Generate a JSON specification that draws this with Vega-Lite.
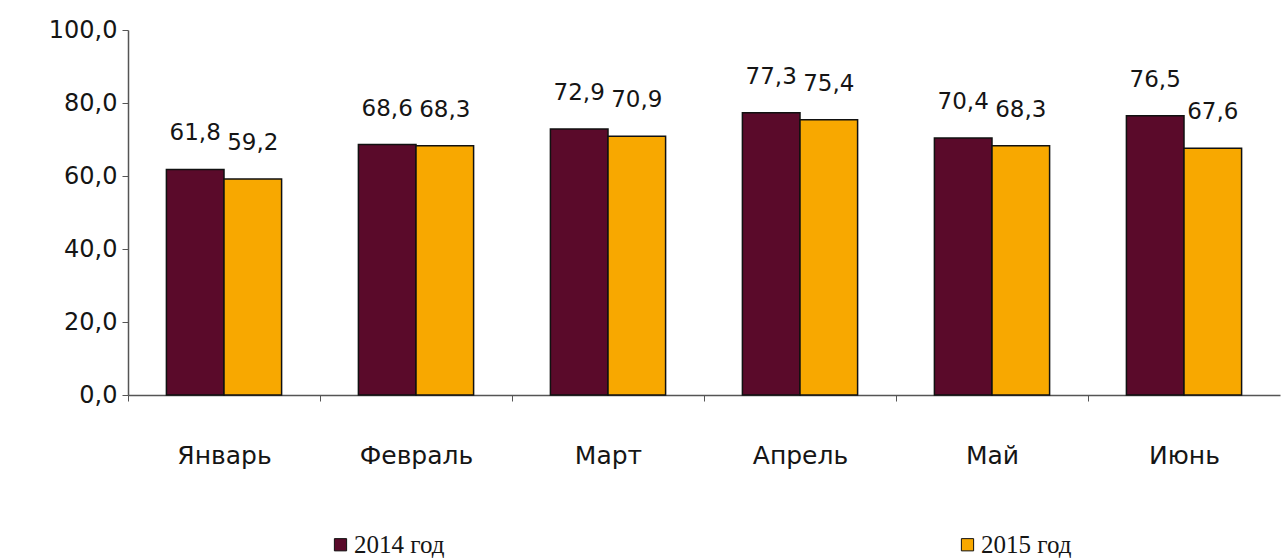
{
  "$schema": "https://vega.github.io/schema/vega-lite/v6.json",
  "width": 1152,
  "height": 365,
  "autosize": "none",
  "padding": {"left": 128, "top": 30, "right": 1, "bottom": 165},
  "background": "white",
  "data": {
    "values": [
      {"month": "Январь", "year": "2014 год", "value": 61.8},
      {"month": "Январь", "year": "2015 год", "value": 59.2},
      {"month": "Февраль", "year": "2014 год", "value": 68.6},
      {"month": "Февраль", "year": "2015 год", "value": 68.3},
      {"month": "Март", "year": "2014 год", "value": 72.9},
      {"month": "Март", "year": "2015 год", "value": 70.9},
      {"month": "Апрель", "year": "2014 год", "value": 77.3},
      {"month": "Апрель", "year": "2015 год", "value": 75.4},
      {"month": "Май", "year": "2014 год", "value": 70.4},
      {"month": "Май", "year": "2015 год", "value": 68.3},
      {"month": "Июнь", "year": "2014 год", "value": 76.5},
      {"month": "Июнь", "year": "2015 год", "value": 67.6}
    ]
  },
  "encoding": {
    "x": {
      "field": "month",
      "type": "nominal",
      "sort": null,
      "title": null,
      "scale": {"paddingInner": 0.4, "paddingOuter": 0.2},
      "axis": {
        "labelAngle": 0,
        "labelFont": "DejaVu Sans",
        "labelFontSize": 25,
        "labelColor": "#151515",
        "labelPadding": 42,
        "tickOffset": -96,
        "labelOffset": 96,
        "tickSize": 6,
        "tickColor": "#555555",
        "domainColor": "#555555",
        "domainWidth": 1.5
      }
    },
    "xOffset": {"field": "year", "type": "nominal", "sort": null},
    "y": {
      "field": "value",
      "type": "quantitative",
      "title": null,
      "scale": {"domain": [0, 100], "nice": false},
      "axis": {
        "values": [0, 20, 40, 60, 80, 100],
        "format": ".1f",
        "grid": false,
        "labelFont": "DejaVu Sans",
        "labelFontSize": 24,
        "labelColor": "#151515",
        "labelPadding": 5,
        "tickSize": 6,
        "tickColor": "#555555",
        "domainColor": "#555555",
        "domainWidth": 1.5
      }
    }
  },
  "layer": [
    {
      "mark": {"type": "bar", "stroke": "#111111", "strokeWidth": 1.5},
      "encoding": {
        "color": {
          "field": "year",
          "type": "nominal",
          "sort": null,
          "title": null,
          "scale": {"range": ["#5a0a2a", "#f8a800"]},
          "legend": {
            "orient": "none",
            "legendX": 200,
            "legendY": 502,
            "direction": "horizontal",
            "symbolType": "square",
            "symbolSize": 150,
            "symbolStrokeColor": "#111111",
            "symbolStrokeWidth": 1,
            "labelFont": "Liberation Serif",
            "labelFontSize": 25,
            "labelColor": "#151515",
            "labelOffset": 1,
            "columnPadding": 510
          }
        }
      }
    },
    {
      "mark": {
        "type": "text",
        "baseline": "bottom",
        "dy": -24,
        "font": "DejaVu Sans",
        "fontSize": 23,
        "color": "#151515"
      },
      "encoding": {
        "text": {"field": "value", "type": "quantitative", "format": ".1f"}
      }
    }
  ],
  "config": {
    "view": {"stroke": null},
    "locale": {
      "number": {"decimal": ",", "thousands": " ", "grouping": [3], "currency": ["", " ₽"]}
    }
  }
}
